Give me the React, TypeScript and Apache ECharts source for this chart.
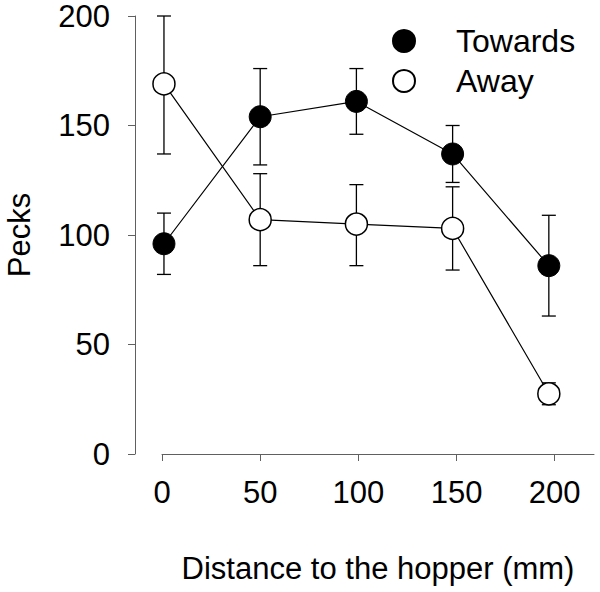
import React, { useEffect, useRef } from "react";
import * as echarts from "echarts";

const xValues = [1, 50, 99, 148, 197];
const xTicks = [0, 50, 100, 150, 200];
const towardsMean = [96, 154, 161, 137, 86];
const towardsHigh = [110, 176, 176, 150, 109];
const towardsLow = [82, 132, 146, 124, 63];
const awayMean = [169, 107, 105, 103, 27.5];
const awayHigh = [200, 128, 123, 122, 32.5];
const awayLow = [137, 86, 86, 84, 22.5];

const FONT = "Liberation Sans, Arial, sans-serif";

function errRender(params: any, api: any) {
  const x = api.value(0);
  const hi = api.coord([x, api.value(1)]);
  const lo = api.coord([x, api.value(2)]);
  const w = 7;
  const st = { stroke: "#000", lineWidth: 1.3 };
  return {
    type: "group",
    children: [
      { type: "line", shape: { x1: hi[0], y1: hi[1], x2: lo[0], y2: lo[1] }, style: st },
      { type: "line", shape: { x1: hi[0] - w, y1: hi[1], x2: hi[0] + w, y2: hi[1] }, style: st },
      { type: "line", shape: { x1: lo[0] - w, y1: lo[1], x2: lo[0] + w, y2: lo[1] }, style: st },
    ],
  };
}

export default function App() {
  const ref = useRef<HTMLDivElement>(null);
  useEffect(() => {
    if (!ref.current) return;
    const chart = echarts.init(ref.current, undefined, { renderer: "svg" });
    const axisColor = "#606060";
    chart.setOption({
      animation: false,
      textStyle: { fontFamily: FONT },
      grid: { left: 162, right: 6, top: 16, bottom: 138, containLabel: false, outerBoundsMode: "none" },
      legend: {
        data: ["Towards", "Away"],
        orient: "vertical",
        left: 392,
        top: 25,
        padding: 0,
        icon: "circle",
        itemWidth: 22,
        itemHeight: 22,
        itemGap: 8,
        textStyle: { fontSize: 32, color: "#000", fontFamily: FONT, padding: [0, 0, 0, 36] },
      },
      xAxis: {
        type: "value",
        min: 0,
        max: 220,
        interval: 50,
        name: "Distance to the hopper (mm)",
        nameLocation: "middle",
        nameGap: 99,
        nameTextStyle: { fontSize: 31, color: "#000", fontFamily: FONT },
        splitLine: { show: false },
        axisLine: { show: true, onZero: false, lineStyle: { color: axisColor, width: 1 } },
        axisTick: { show: true, length: 7, customValues: xTicks, lineStyle: { color: axisColor } },
        axisLabel: { customValues: xTicks, fontSize: 31, color: "#000", margin: 23, fontFamily: FONT },
      },
      yAxis: {
        type: "value",
        min: 0,
        max: 200,
        interval: 50,
        offset: 27,
        name: "Pecks",
        nameLocation: "middle",
        nameGap: 100,
        nameTextStyle: { fontSize: 31, color: "#000", fontFamily: FONT },
        splitLine: { show: false },
        axisLine: { show: true, onZero: false, lineStyle: { color: axisColor, width: 1 } },
        axisTick: { show: true, length: 7, lineStyle: { color: axisColor } },
        axisLabel: { fontSize: 31, color: "#000", margin: 25, fontFamily: FONT },
      },
      series: [
        {
          type: "custom",
          name: "towardsErr",
          renderItem: errRender,
          data: xValues.map((x, i) => [x, towardsHigh[i], towardsLow[i]]),
          encode: { x: 0, y: [1, 2] },
          clip: false,
          z: 1,
        },
        {
          type: "custom",
          name: "awayErr",
          renderItem: errRender,
          data: xValues.map((x, i) => [x, awayHigh[i], awayLow[i]]),
          encode: { x: 0, y: [1, 2] },
          clip: false,
          z: 1,
        },
        {
          type: "line",
          name: "Towards",
          data: xValues.map((x, i) => [x, towardsMean[i]]),
          symbol: "circle",
          symbolSize: 22,
          clip: false,
          z: 3,
          lineStyle: { color: "#000", width: 1.2 },
          itemStyle: { color: "#000", borderColor: "#000", borderWidth: 1 },
        },
        {
          type: "line",
          name: "Away",
          data: xValues.map((x, i) => [x, awayMean[i]]),
          symbol: "circle",
          symbolSize: 22,
          clip: false,
          z: 2,
          lineStyle: { color: "#000", width: 1.2 },
          itemStyle: { color: "#fff", borderColor: "#000", borderWidth: 1.5 },
        },
      ],
    });
    return () => chart.dispose();
  }, []);
  return (
    <div
      ref={ref}
      style={{ position: "fixed", left: 0, top: 0, width: 600, height: 592, background: "#fff" }}
    />
  );
}
